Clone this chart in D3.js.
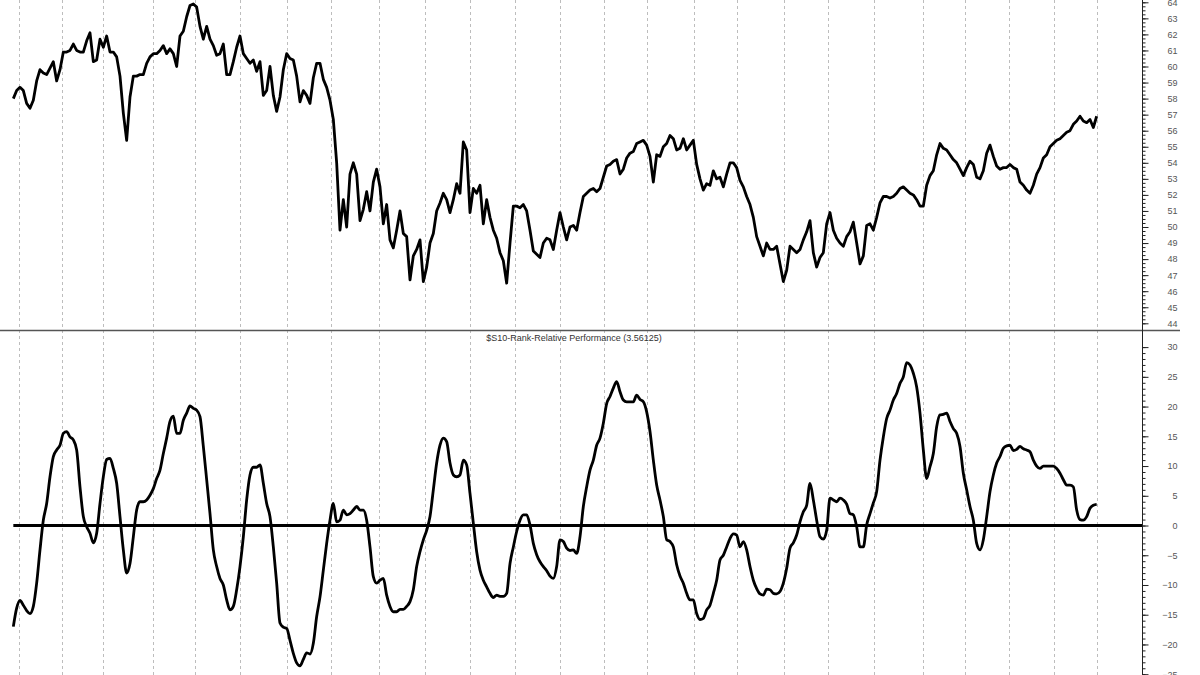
<!DOCTYPE html>
<html><head><meta charset="utf-8">
<script src="https://cdn.jsdelivr.net/npm/d3@7"></script>
<style>body{margin:0;background:#fff;} svg{display:block;}</style>
</head><body>
<svg id="c" width="1200" height="675"></svg>
<script>
// Upper panel: price ratio series (sampled across the chart)
const priceValues = [
58.0,58.5,58.7,58.5,57.7,57.4,57.9,59.1,59.8,59.6,
59.5,59.9,60.3,59.1,59.8,60.9,60.9,61.0,61.4,61.0,
60.9,60.9,61.6,62.1,60.3,60.4,61.7,61.2,61.9,60.9,
60.9,60.6,59.4,57.1,55.4,58.1,59.4,59.4,59.5,59.5,
60.2,60.6,60.8,60.8,61.0,61.3,60.8,61.1,60.8,60.0,
61.9,62.2,63.1,63.8,63.9,63.7,62.5,61.7,62.5,61.7,
61.3,60.7,60.8,61.4,59.5,59.5,60.3,61.2,61.9,60.8,
60.5,60.2,60.4,59.7,60.3,58.2,58.5,60.0,58.2,57.2,
58.1,59.8,60.8,60.5,60.4,59.4,57.8,58.5,58.2,57.7,
59.3,60.2,60.2,59.2,58.7,57.9,56.7,54.0,49.8,51.7,
50.0,53.3,54.0,53.3,50.4,51.1,52.2,51.0,52.8,53.6,
52.5,50.2,51.4,49.2,48.7,49.8,51.0,49.6,49.4,46.7,
48.2,48.6,49.2,46.6,47.5,49.0,49.6,51.0,51.5,52.1,
51.7,50.9,51.7,52.7,52.1,55.3,54.8,50.9,52.4,52.1,
52.6,50.2,51.7,50.6,49.8,49.3,48.4,47.9,46.5,49.0,
51.3,51.3,51.2,51.4,51.0,49.8,48.5,48.3,48.1,49.0,
49.3,49.2,48.6,49.8,50.9,50.0,49.2,50.0,50.1,49.8,
50.9,51.9,52.1,52.3,52.4,52.2,52.4,53.1,53.8,53.9,
54.1,54.2,53.3,53.6,54.3,54.6,54.7,55.2,55.3,55.4,
55.1,54.4,52.8,54.5,54.4,55.0,55.2,55.7,55.5,54.8,
54.9,55.5,54.8,55.1,55.4,53.9,53.0,52.3,52.7,52.6,
53.5,53.0,53.1,52.5,53.3,54.0,54.0,53.7,52.9,52.5,
51.9,
51.4,50.6,49.4,48.8,48.2,49.0,48.6,48.6,48.8,47.7,
46.6,47.3,48.8,48.6,48.4,48.6,49.2,49.7,50.4,48.4,
47.5,48.1,48.4,50.2,50.9,49.8,49.3,49.0,48.8,49.4,
49.7,50.3,49.0,47.7,48.2,50.1,50.2,49.8,50.6,51.5,
51.9,51.9,51.8,51.9,52.1,52.4,52.5,52.3,52.1,52.0,
51.7,51.3,51.3,52.6,53.2,53.5,54.5,55.2,54.9,54.8,
54.5,54.2,54.0,53.6,53.2,53.7,54.1,53.9,53.1,53.0,
53.5,54.6,55.1,54.4,53.8,53.6,53.7,53.7,53.9,53.7,
53.6,52.8,52.6,52.3,52.1,52.6,53.3,53.7,54.3,54.5,
55.0,55.2,55.4,55.5,55.7,55.9,56.0,56.4,56.6,56.9,
56.6,56.5,56.7,56.2,56.9
];

// Lower panel: $S10 rank relative performance
const rankValues = [
-17.0,-13.9,-12.6,-13.4,-14.3,-14.8,-13.6,-9.7,-4.1,0.9,
3.7,8.2,11.6,12.7,13.5,15.5,15.8,14.9,14.4,12.7,
6.5,1.5,-0.2,-1.3,-2.9,-1.3,3.7,8.2,11.1,11.3,
9.6,7.1,1.5,-4.1,-8.0,-6.4,-1.9,2.6,4.0,4.0,
4.3,5.1,6.2,7.9,9.3,12.1,14.7,17.5,18.4,15.5,
15.5,17.7,18.9,20.1,19.7,19.4,18.3,13.3,7.7,2.0,
-4.1,-6.9,-8.9,-10.0,-12.5,-14.2,-13.6,-10.8,-6.9,-1.9,
4.3,8.5,9.8,9.8,10.2,7.1,3.7,1.5,-3.6,-9.7,
-16.4,-17.1,-17.3,-19.3,-21.5,-23.1,-23.6,-22.5,-21.4,-21.6,
-19.8,-15.3,-12.0,-7.5,-3.0,0.9,3.7,0.6,0.9,2.6,
1.8,2.0,2.6,3.2,2.6,2.6,0.9,-3.6,-8.6,-9.7,
-9.2,-8.9,-11.7,-13.6,-14.5,-14.5,-14.1,-14.1,-13.6,-12.8,
-10.8,-6.9,-4.4,-2.4,-0.8,1.5,6.0,10.5,13.5,14.7,
14.1,10.5,8.5,8.2,8.5,11.0,10.2,5.4,0.4,-4.4,
-7.5,-9.2,-10.3,-11.4,-12.1,-11.7,-11.9,-11.9,-11.4,-6.4,
-3.6,-1.0,0.9,1.8,1.8,0.1,-3.0,-4.9,-6.1,-6.9,
-7.6,-8.5,-8.9,-6.9,-2.4,-2.7,-3.8,-4.2,-4.1,-4.7,
-1.9,3.2,6.5,9.3,11.0,13.5,14.7,17.2,20.5,21.7,
23.1,24.2,22.5,21.1,20.8,20.8,20.8,21.9,21.2,20.8,
19.1,15.8,11.0,6.8,4.3,1.5,-2.4,-2.7,-3.6,-6.6,
-8.5,-9.7,-11.4,-12.5,-12.5,-14.8,-15.8,-15.6,-14.2,-13.4,
-11.4,-9.2,-5.8,-5.0,-3.6,-2.2,-1.4,-1.6,-3.6,-2.7,
-4.1,
-6.9,-9.2,-10.6,-11.5,-11.7,-10.7,-10.8,-11.4,-11.5,-11.1,
-9.7,-7.2,-3.8,-2.9,-1.6,0.6,2.3,3.4,7.1,4.3,
0.9,-1.9,-2.3,-0.8,4.6,4.3,4.0,4.6,4.3,3.6,
2.0,1.8,-0.2,-3.6,-3.6,0.1,2.0,3.8,5.7,11.0,
14.9,18.0,19.4,21.1,22.2,23.9,25.0,27.4,27.0,25.6,
23.3,18.9,12.7,7.9,9.9,12.1,16.6,18.6,18.7,18.9,
17.5,16.3,15.5,13.3,8.8,6.0,3.2,0.9,-3.0,-4.1,
-2.4,1.5,5.7,8.5,10.5,11.6,13.0,13.4,13.5,12.6,
12.8,13.3,12.9,12.7,12.4,11.0,10.0,9.6,10.0,10.0,
10.0,10.0,9.6,8.8,7.7,6.8,6.8,6.5,2.6,1.0,
0.9,1.5,2.9,3.4,3.56125
];

// Month-start positions (in sample index units) for the dashed grid
const monthStarts = [1.7,14.6,26.9,41.9,54.5,68.0,82.1,95.3,109.7,123.5,137.0,150.5,164.0,
  177.2,190.1,204.2,217.1,231.2,244.4,258.2,272.9,285.5,298.7,312.2,325.1];

const priceTicks = d3.range(44, 65, 1);
const priceMinorTicks = d3.range(44, 64.01, 0.25);
const rankTicks = d3.range(-25, 31, 5);
const rankMinorTicks = d3.range(-25, 30.01, 1);
const panelTitle = "$S10-Rank-Relative Performance (3.56125)";

const W = 1200, H = 675, axisX = 1142, divY = 330;
const svg = d3.select('#c');
const FONT = '"Liberation Sans", Arial, sans-serif';

const x = d3.scaleLinear().domain([0, priceValues.length - 1]).range([13.33, 1096.67]);
const yTop = d3.scaleLinear().domain([44, 64]).range([323.3, 2.3]);
const yBot = d3.scaleLinear().domain([-25, 30]).range([674.2, 347.1]);

svg.append('rect').attr('width', W).attr('height', H).attr('fill', '#fff');

// dashed vertical grid
svg.append('g').selectAll('line').data(monthStarts).join('line')
  .attr('x1', d => Math.round(x(d)) + 0.5).attr('x2', d => Math.round(x(d)) + 0.5)
  .attr('y1', 0).attr('y2', H)
  .attr('stroke', '#bdbdbd').attr('stroke-width', 1).attr('stroke-dasharray', '3,3');

// panel divider
svg.append('line').attr('x1', 0).attr('x2', 1180).attr('y1', divY + 0.5).attr('y2', divY + 0.5)
  .attr('stroke', '#555').attr('stroke-width', 1.5);

// right axis line
svg.append('line').attr('x1', axisX + 0.5).attr('x2', axisX + 0.5).attr('y1', 0).attr('y2', H)
  .attr('stroke', '#222').attr('stroke-width', 1);

function styleAxis(g) {
  g.select('.domain').remove();
  g.selectAll('line').attr('stroke', '#222');
  g.selectAll('text').attr('x', 35).attr('text-anchor', 'end')
    .attr('font-family', FONT).attr('font-size', 9).attr('fill', '#555');
}

// top axis
svg.append('g').attr('transform', `translate(${axisX + 0.5},0)`)
  .call(d3.axisRight(yTop).tickValues(priceMinorTicks).tickSize(3).tickFormat(''))
  .call(g => g.select('.domain').remove()).call(g => g.selectAll('line').attr('stroke', '#222'));
svg.append('g').attr('transform', `translate(${axisX + 0.5},0)`)
  .call(d3.axisRight(yTop).tickValues(priceTicks).tickSize(6).tickFormat(d3.format('d')))
  .call(styleAxis);

// bottom axis
svg.append('g').attr('transform', `translate(${axisX + 0.5},0)`)
  .call(d3.axisRight(yBot).tickValues(rankMinorTicks).tickSize(3).tickFormat(''))
  .call(g => g.select('.domain').remove()).call(g => g.selectAll('line').attr('stroke', '#222'));
svg.append('g').attr('transform', `translate(${axisX + 0.5},0)`)
  .call(d3.axisRight(yBot).tickValues(rankTicks).tickSize(6).tickFormat(d3.format('d')))
  .call(styleAxis);

// zero line
svg.append('line').attr('x1', x(0)).attr('x2', axisX).attr('y1', yBot(0)).attr('y2', yBot(0))
  .attr('stroke', '#000').attr('stroke-width', 3);

// title of lower panel
svg.append('text').attr('x', 574).attr('y', 341).attr('text-anchor', 'middle')
  .attr('font-family', FONT).attr('font-size', 9).attr('fill', '#333').text(panelTitle);

// series lines
const lineTop = d3.line().x((d, i) => x(i)).y(d => yTop(d));
const lineBot = d3.line().x((d, i) => x(i)).y(d => yBot(d)).curve(d3.curveMonotoneX);
svg.append('path').datum(priceValues).attr('d', lineTop)
  .attr('fill', 'none').attr('stroke', '#000').attr('stroke-width', 2.8)
  .attr('stroke-linejoin', 'round');
svg.append('path').datum(rankValues).attr('d', lineBot)
  .attr('fill', 'none').attr('stroke', '#000').attr('stroke-width', 2.8)
  .attr('stroke-linejoin', 'round');
</script>
</body></html>
